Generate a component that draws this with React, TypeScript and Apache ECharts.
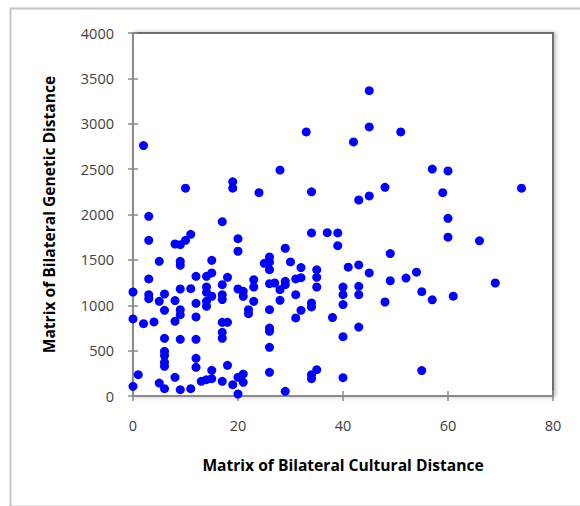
import React, { useEffect, useRef } from "react";
import * as echarts from "echarts";

const culturalDistance = [
  2, 10, 19, 19, 24, 28, 33, 34, 42, 45, 45, 51, 43, 45, 48, 57, 60, 59, 74, 60,
  60, 66, 69, 61, 57, 55, 54, 52, 49, 49, 48, 55, 45, 43, 43, 43, 43, 41, 40, 40,
  40, 40, 40, 39, 39, 37, 34, 38, 35, 35, 35, 34, 34, 35, 34, 34, 32, 32, 31, 31,
  31, 32, 30, 29, 29, 29, 28, 28, 29, 27, 26, 26, 26, 25, 26, 26, 26, 26, 26, 26,
  23, 23, 23, 22, 22, 21, 21, 20, 20, 19, 20, 20, 20, 21, 21, 17, 18, 17, 17, 17,
  17, 18, 17, 17, 18, 17, 15, 15, 14, 14, 14, 15, 14, 14, 15, 15, 14, 13, 12, 12,
  12, 12, 12, 12, 11, 10, 9, 8, 11, 9, 9, 9, 9, 9, 8, 8, 9, 8, 9, 11,
  6, 5, 5, 6, 6, 6, 6, 6, 6, 5, 6, 4, 3, 3, 3, 3, 3, 2, 1, 0,
  0, 0,
];

const geneticDistance = [
  2760, 2290, 2360, 2290, 2240, 2490, 2910, 2250, 2800, 3365, 2965, 2910, 2160, 2205, 2300, 2500, 2480, 2240, 2290, 1958,
  1750, 1710, 1245, 1100, 1060, 1150, 1365, 1300, 1570, 1270, 1036, 280, 1356, 1444, 1209, 1117, 760, 1420, 1200, 1117,
  1007, 654, 202, 1657, 1797, 1800, 1797, 865, 1390, 1308, 1201, 1025, 981, 290, 235, 191, 1415, 1304, 1290, 1117,
  860, 944, 1477, 1628, 1264, 1227, 1172, 1054, 51, 1245, 1532, 1477, 1392, 1462, 1238, 951, 749, 713, 536, 261,
  1282, 1201, 1043, 951, 907, 242, 151, 206, 22, 125, 1595, 1734, 1179, 1154, 1099, 1921, 1308, 1227, 1117, 1062,
  812, 812, 702, 636, 338, 162, 1495, 1356, 1319, 1201, 1143, 1099, 1043, 988, 283, 191, 180, 162, 1319, 1021,
  871, 625, 415, 316, 1782, 1716, 1668, 1675, 1183, 1484, 1440, 1179, 951, 896, 1051, 823, 625, 206, 70, 81,
  1124, 1484, 1043, 944, 636, 492, 445, 371, 327, 143, 81, 816, 1980, 1716, 1290, 1117, 1073, 797, 235, 1146,
  849, 107,
];

const xTicks = { min: 0, max: 80, interval: 20 };
const yTicks = { min: 0, max: 4000, interval: 500 };

const xTitle = "Matrix of Bilateral Cultural Distance";
const yTitle = "Matrix of Bilateral Genetic Distance";

const FONT = "'Open Sans', sans-serif";
const AXIS_COLOR = "#8a8a8a";

export default function App() {
  const ref = useRef<HTMLDivElement>(null);

  useEffect(() => {
    if (!ref.current) return;
    const chart = echarts.init(ref.current, null, { renderer: "svg" });
    const points = culturalDistance.map((x, i) => [x, geneticDistance[i]]);

    const labelStyle = {
      color: "#404040",
      fontSize: 14.5,
      fontFamily: FONT,
      formatter: (v: number) => String(v),
    };
    const titleStyle = { color: "#000", fontSize: 15.6, fontWeight: "bold" as const, fontFamily: FONT };

    chart.setOption({
      animation: false,
      backgroundColor: "#ffffff",
      grid: {
        left: 133,
        top: 33,
        width: 420,
        height: 363,
        show: true,
        borderColor: "#6e6e6e",
        borderWidth: 2,
        backgroundColor: "#ffffff",
        shadowColor: "rgba(0,0,0,0.25)",
        shadowBlur: 4,
        shadowOffsetX: 2,
        shadowOffsetY: 0,
      },
      xAxis: [
        {
          type: "value",
          ...xTicks,
          name: xTitle,
          nameLocation: "middle",
          nameGap: 61,
          nameTextStyle: titleStyle,
          axisLine: { show: true, onZero: false, lineStyle: { color: AXIS_COLOR, width: 2 } },
          axisTick: { show: true, inside: false, length: 5, lineStyle: { color: AXIS_COLOR, width: 1.5 } },
          axisLabel: { ...labelStyle, margin: 22 },
          splitLine: { show: false },
        },
        {
          type: "value",
          ...xTicks,
          position: "bottom",
          axisLine: { show: false },
          axisTick: { show: true, inside: true, length: 5, lineStyle: { color: AXIS_COLOR, width: 1.5 } },
          axisLabel: { show: false },
          splitLine: { show: false },
        },
      ],
      yAxis: [
        {
          type: "value",
          ...yTicks,
          name: yTitle,
          nameLocation: "middle",
          nameGap: 76,
          nameTextStyle: titleStyle,
          axisLine: { show: true, onZero: false, lineStyle: { color: AXIS_COLOR, width: 2 } },
          axisTick: { show: true, inside: false, length: 5, lineStyle: { color: AXIS_COLOR, width: 1.5 } },
          axisLabel: { ...labelStyle, margin: 19 },
          splitLine: { show: false },
        },
        {
          type: "value",
          ...yTicks,
          position: "left",
          axisLine: { show: false },
          axisTick: { show: true, inside: true, length: 5, lineStyle: { color: AXIS_COLOR, width: 1.5 } },
          axisLabel: { show: false },
          splitLine: { show: false },
        },
      ],
      graphic: [
        {
          type: "rect",
          left: 8,
          top: 6,
          shape: { width: 600, height: 498 },
          style: { fill: "none", stroke: "#c4c4c4", lineWidth: 2 },
          silent: true,
          z: 100,
        },
        {
          type: "rect",
          shape: { x: 134, y: 34, width: 418, height: 10 },
          style: {
            fill: new echarts.graphic.LinearGradient(0, 0, 0, 1, [
              { offset: 0, color: "rgba(0,0,0,0.07)" },
              { offset: 1, color: "rgba(0,0,0,0)" },
            ]),
          },
          silent: true,
          z: -1,
        },
      ],
      series: [
        {
          type: "scatter",
          xAxisIndex: 0,
          yAxisIndex: 0,
          data: points,
          symbol: "circle",
          symbolSize: 9,
          itemStyle: { color: "#0000ff", opacity: 1 },
          z: 5,
        },
      ],
    });

    return () => chart.dispose();
  }, []);

  return (
    <div
      ref={ref}
      style={{ position: "absolute", left: 0, top: 0, width: 580, height: 506, background: "#fff" }}
    />
  );
}
